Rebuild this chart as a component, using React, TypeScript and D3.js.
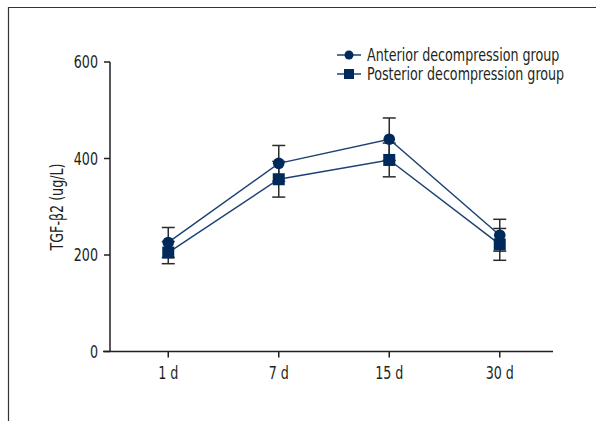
import React, { useEffect, useRef } from "react";
import * as d3 from "d3";

const days = ["1 d", "7 d", "15 d", "30 d"];
const anteriorMean = [226, 390, 440, 241];
const anteriorSd = [31, 37, 44, 33];
const posteriorMean = [205, 357, 397, 222];
const posteriorSd = [23, 37, 35, 33];
const yTicks = [0, 200, 400, 600];

const series = [
  { name: "Anterior decompression group", mean: anteriorMean, sd: anteriorSd, shape: "circle" },
  { name: "Posterior decompression group", mean: posteriorMean, sd: posteriorSd, shape: "square" },
];

const FONT = "'Liberation Sans Narrow', 'DejaVu Sans Condensed', 'Roboto Condensed', sans-serif";

function App() {
  const ref = useRef<SVGSVGElement>(null);

  useEffect(() => {
    const svg = d3.select(ref.current);
    svg.selectAll("*").remove();

    const width = 596;
    const height = 421;
    const ink = "#231f20";
    const navy = "#002a5c";
    const lineColor = "#1e4273";

    // condensed-looking text: squeeze glyphs horizontally
    const label = (parent: any, px: number, py: number, str: string, anchor: string, rotate = 0) =>
      parent
        .append("text")
        .attr("transform", `translate(${px},${py}) rotate(${rotate}) scale(0.83,1.02)`)
        .attr("text-anchor", anchor)
        .attr("dy", "0.35em")
        .attr("font-family", FONT)
        .attr("font-size", 17)
        .attr("fill", ink)
        .text(str);

    // frame (left + top only)
    svg
      .append("path")
      .attr("d", `M8.5,${height} V7.5 H${width}`)
      .attr("fill", "none")
      .attr("stroke", "#333")
      .attr("stroke-width", 1.2);

    const x = d3.scalePoint<string>().domain(days).range([113, 555]).padding(0.5);
    const y = d3.scaleLinear().domain([0, 600]).range([351.5, 62]);

    // y axis
    const yAxis = svg.append("g").attr("transform", "translate(110,0)");
    yAxis
      .append("line")
      .attr("y1", y(600))
      .attr("y2", y(0))
      .attr("stroke", ink)
      .attr("stroke-width", 1.5);
    yTicks.forEach(t => {
      yAxis
        .append("line")
        .attr("x1", -6)
        .attr("x2", 0)
        .attr("y1", y(t))
        .attr("y2", y(t))
        .attr("stroke", ink)
        .attr("stroke-width", 1.5);
      label(yAxis, -12, y(t), String(t), "end");
    });

    // x axis
    const xAxis = svg.append("g").attr("transform", `translate(0,${y(0)})`);
    xAxis
      .append("line")
      .attr("x1", 103)
      .attr("x2", 553)
      .attr("stroke", ink)
      .attr("stroke-width", 1.5);
    days.forEach(d => {
      xAxis
        .append("line")
        .attr("x1", x(d)!)
        .attr("x2", x(d)!)
        .attr("y1", 0)
        .attr("y2", 6)
        .attr("stroke", ink)
        .attr("stroke-width", 1.5);
      label(xAxis, x(d)!, 21, d, "middle");
    });

    // y label
    label(svg, 57, 207, "TGF-β2 (ug/L)", "middle", -90);

    // error bars
    series.forEach(s => {
      days.forEach((d, i) => {
        const cx = x(d)!;
        const lo = y(s.mean[i] - s.sd[i]);
        const hi = y(s.mean[i] + s.sd[i]);
        const g = svg.append("g").attr("stroke", "#2b2b2b").attr("stroke-width", 1.5);
        g.append("line").attr("x1", cx).attr("x2", cx).attr("y1", lo).attr("y2", hi);
        g.append("line").attr("x1", cx - 6.5).attr("x2", cx + 6.5).attr("y1", lo).attr("y2", lo);
        g.append("line").attr("x1", cx - 6.5).attr("x2", cx + 6.5).attr("y1", hi).attr("y2", hi);
      });
    });

    // lines and markers
    const line = d3
      .line<number>()
      .x((_, i) => x(days[i])!)
      .y(v => y(v));

    series.forEach(s => {
      svg
        .append("path")
        .attr("d", line(s.mean))
        .attr("fill", "none")
        .attr("stroke", lineColor)
        .attr("stroke-width", 1.5);
    });

    series.forEach(s => {
      s.mean.forEach((v, i) => {
        const cx = x(days[i])!;
        const cy = y(v);
        if (s.shape === "circle") {
          svg.append("circle").attr("cx", cx).attr("cy", cy).attr("r", 5.8).attr("fill", navy);
        } else {
          svg
            .append("rect")
            .attr("x", cx - 6)
            .attr("y", cy - 6)
            .attr("width", 12)
            .attr("height", 12)
            .attr("fill", navy);
        }
      });
    });

    // legend
    const legend = svg.append("g").attr("transform", "translate(337,55)");
    series.forEach((s, i) => {
      const row = legend.append("g").attr("transform", `translate(0,${i * 19})`);
      row
        .append("line")
        .attr("x1", 0)
        .attr("x2", 24)
        .attr("stroke", lineColor)
        .attr("stroke-width", 1.5);
      if (s.shape === "circle") {
        row.append("circle").attr("cx", 12).attr("cy", 0).attr("r", 4.5).attr("fill", navy);
      } else {
        row.append("rect").attr("x", 7).attr("y", -5).attr("width", 10).attr("height", 10).attr("fill", navy);
      }
      label(row, 30, 0, s.name, "start");
    });
  }, []);

  return (
    <svg
      ref={ref}
      width={596}
      height={421}
      style={{ position: "absolute", left: 0, top: 0, background: "#fff" }}
    />
  );
}

export default App;
